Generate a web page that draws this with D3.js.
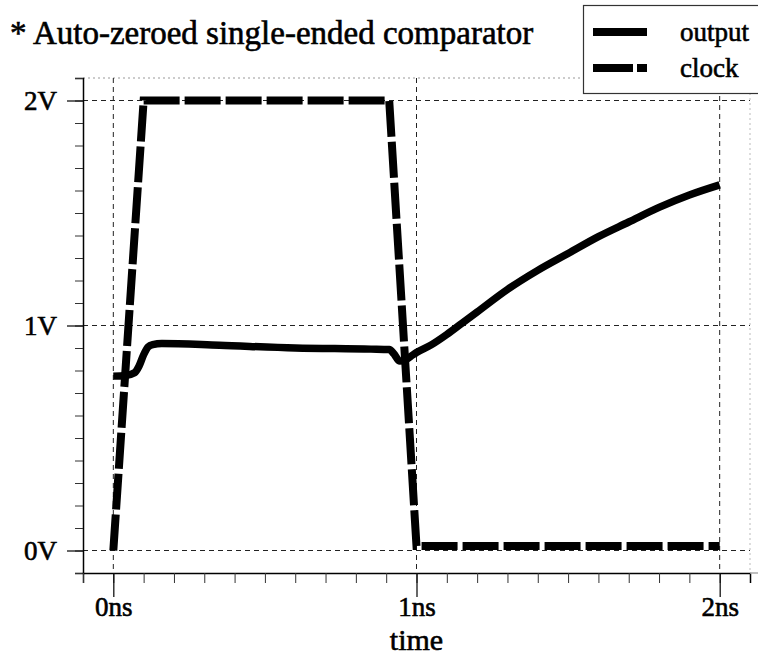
<!DOCTYPE html>
<html><head><meta charset="utf-8">
<script src="https://cdn.jsdelivr.net/npm/d3@7"></script>
<style>
html,body{margin:0;padding:0;background:#fff;}
svg{display:block;}
</style></head>
<body>
<svg id="chart" width="758" height="657"></svg>
<script>
// ---- data ----
const title = "* Auto-zeroed single-ended comparator";
const xLabel = "time";
const xTickValues = [0, 1, 2];
const xTickLabels = ["0ns", "1ns", "2ns"];
const yTickValues = [0, 1, 2];
const yTickLabels = ["0V", "1V", "2V"];
const seriesNames = ["output", "clock"];
const clockTime = [0, 0.1, 0.91, 1.0, 2.0];
const clockVolt = [0, 2, 2, 0.02, 0.02];
const outputTime = [0, 0.04, 0.07, 0.085, 0.1, 0.115, 0.13, 0.16, 0.35, 0.6, 0.85, 0.91, 0.925, 0.945, 0.96, 0.98, 1.0, 1.05, 1.1, 1.15, 1.2, 1.3, 1.4, 1.5, 1.6, 1.7, 1.8, 1.9, 2.0];
const outputVolt = [0.775, 0.778, 0.79, 0.82, 0.87, 0.905, 0.915, 0.92, 0.912, 0.9, 0.895, 0.893, 0.875, 0.842, 0.845, 0.862, 0.88, 0.915, 0.96, 1.01, 1.06, 1.16, 1.245, 1.32, 1.395, 1.46, 1.525, 1.58, 1.625];

const FONT = "'Liberation Serif', 'Times New Roman', serif";

// ---- layout ----
const svg = d3.select("#chart");
const L = 83, R = 750, T = 78, B = 573;
const x = d3.scaleLinear().domain([-0.1, 2.1]).range([L, R]);
const y = d3.scaleLinear().domain([-0.1, 2.1]).range([B, T]);

function heavy(sel) {
  return sel.attr("font-family", FONT).attr("fill", "#000")
    .attr("stroke", "#000").attr("stroke-width", 0.6).attr("stroke-dasharray", null);
}

// frame (light dotted top / right)
svg.append("line").attr("x1", L).attr("x2", R).attr("y1", T).attr("y2", T)
  .attr("stroke", "#999").attr("stroke-width", 1).attr("stroke-dasharray", "2,3");
svg.append("line").attr("x1", R).attr("x2", R).attr("y1", T).attr("y2", B)
  .attr("stroke", "#bbb").attr("stroke-width", 1).attr("stroke-dasharray", "2,3");

// grid
const grid = svg.append("g").attr("stroke", "#222").attr("stroke-width", 1).attr("stroke-dasharray", "5,4");
yTickValues.forEach(v => grid.append("line").attr("x1", L).attr("x2", R).attr("y1", y(v)).attr("y2", y(v)));
xTickValues.forEach(v => grid.append("line").attr("x1", x(v)).attr("x2", x(v)).attr("y1", T).attr("y2", B));

// y axis
const yMinor = d3.range(-1, 22).map(i => i / 10);
const gy = svg.append("g").attr("transform", `translate(${L},0)`)
  .call(d3.axisLeft(y).tickValues(yMinor).tickSize(8).tickFormat(""));
gy.select(".domain").attr("stroke", "#000").attr("stroke-width", 1.5);
gy.selectAll(".tick line").attr("stroke", "#333");
const gy2 = svg.append("g").attr("transform", `translate(${L},0)`)
  .call(d3.axisLeft(y).tickValues(yTickValues).tickSize(16).tickPadding(10).tickFormat((d, i) => yTickLabels[i]));
gy2.attr("font-family", FONT);
gy2.select(".domain").remove();
gy2.selectAll(".tick line").attr("stroke", "#000").attr("stroke-width", 1.2);
heavy(gy2.selectAll(".tick text").attr("font-size", 27).attr("dy", "0.35em"));

// x axis
const xMinor = d3.range(-1, 21).map(i => i / 10);
const gx = svg.append("g").attr("transform", `translate(0,${B})`)
  .call(d3.axisBottom(x).tickValues(xMinor).tickSize(10).tickFormat(""));
gx.select(".domain").attr("stroke", "#000").attr("stroke-width", 1.5);
gx.selectAll(".tick line").attr("stroke", "#333");
const gx2 = svg.append("g").attr("transform", `translate(0,${B})`)
  .call(d3.axisBottom(x).tickValues(xTickValues).tickSize(24).tickPadding(4).tickFormat((d, i) => xTickLabels[i]));
gx2.attr("font-family", FONT);
gx2.select(".domain").remove();
gx2.selectAll(".tick line").attr("stroke", "#000").attr("stroke-width", 1.2);
heavy(gx2.selectAll(".tick text").attr("font-size", 27).attr("y", 43).attr("dy", 0));
svg.append("line").attr("x1", R).attr("x2", 758).attr("y1", B).attr("y2", B).attr("stroke", "#aaa").attr("stroke-width", 1.5);

// x label
heavy(svg.append("text").attr("x", x(1)).attr("y", 650).attr("text-anchor", "middle")
  .attr("font-size", 30).text(xLabel));

// title
heavy(svg.append("text").attr("x", 10).attr("y", 44).attr("font-size", 33).text(title));

// series
const clockData = clockTime.map((t, i) => [t, clockVolt[i]]);
const outputData = outputTime.map((t, i) => [t, outputVolt[i]]);
const lineLin = d3.line().x(d => x(d[0])).y(d => y(d[1]));
const lineSmooth = d3.line().x(d => x(d[0])).y(d => y(d[1])).curve(d3.curveMonotoneX);

svg.append("path").datum(clockData).attr("d", lineLin).attr("fill", "none")
  .attr("stroke", "#000").attr("stroke-width", 8).attr("stroke-dasharray", "36,5")
  .attr("stroke-linejoin", "miter");
svg.append("path").datum(outputData).attr("d", lineSmooth).attr("fill", "none")
  .attr("stroke", "#000").attr("stroke-width", 7.5).attr("stroke-linejoin", "round").attr("stroke-linecap", "butt");

// legend
const lg = svg.append("g");
lg.append("rect").attr("x", 583.5).attr("y", 5.5).attr("width", 190).attr("height", 88)
  .attr("fill", "#fff").attr("stroke", "#333").attr("stroke-width", 1.2);
lg.append("line").attr("x1", 593).attr("x2", 647).attr("y1", 32).attr("y2", 32)
  .attr("stroke", "#000").attr("stroke-width", 8);
lg.append("line").attr("x1", 593).attr("x2", 647).attr("y1", 68).attr("y2", 68)
  .attr("stroke", "#000").attr("stroke-width", 8).attr("stroke-dasharray", "40,4");
heavy(lg.append("text").attr("x", 680).attr("y", 41).attr("font-size", 27).text(seriesNames[0]));
heavy(lg.append("text").attr("x", 680).attr("y", 77).attr("font-size", 27).text(seriesNames[1]));
</script>
</body></html>
